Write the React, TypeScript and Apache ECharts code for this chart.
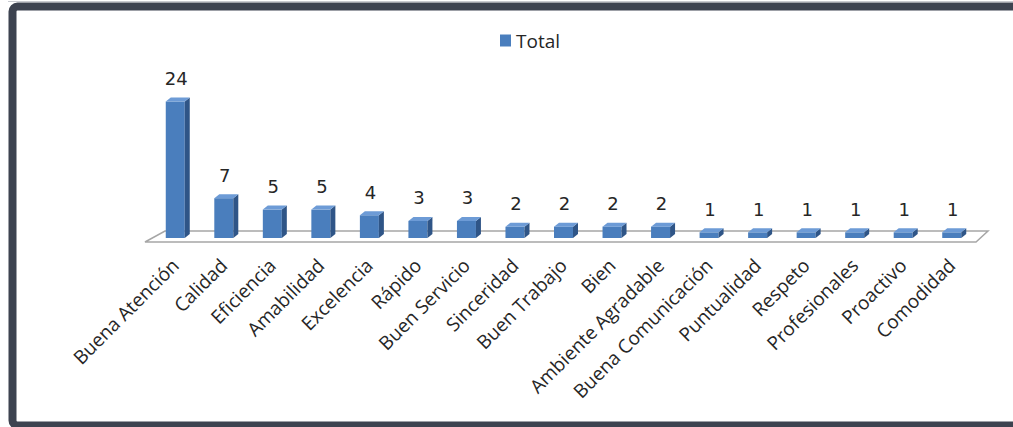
import React, { useEffect, useRef } from "react";
import * as echarts from "echarts";

const categories = [
  "Buena Atención", "Calidad", "Eficiencia", "Amabilidad", "Excelencia", "Rápido",
  "Buen Servicio", "Sinceridad", "Buen Trabajo", "Bien", "Ambiente Agradable",
  "Buena Comunicación", "Puntualidad", "Respeto", "Profesionales", "Proactivo", "Comodidad",
];
const totals = [24, 7, 5, 5, 4, 3, 3, 2, 2, 2, 2, 1, 1, 1, 1, 1, 1];
const seriesName = "Total";

const FRONT = "#4a7ebd";
const SIDE = "#2f5587";
const TOP = "#6d9bd6";

export default function App() {
  const ref = useRef<HTMLDivElement>(null);
  useEffect(() => {
    if (!ref.current) return;
    const chart = echarts.init(ref.current, null, { renderer: "svg" });
    const halfW = 9.5;
    const dx = 5;
    const dy = 4;
    const option: any = {
      animation: false,
      backgroundColor: "#ffffff",
      legend: {
        data: [seriesName],
        left: 495,
        top: 26,
        icon: "rect",
        itemWidth: 11,
        itemHeight: 12,
        itemGap: 6,
        textStyle: { fontFamily: "Open Sans", fontSize: 19, color: "#262626" },
      },
      grid: { left: 151, right: 37, top: 101.5, bottom: 189 },
      xAxis: {
        type: "category",
        data: categories,
        axisLine: { show: false },
        axisTick: { show: false },
        axisLabel: {
          interval: 0,
          rotate: 45,
          margin: 24,
          fontFamily: "Open Sans",
          fontSize: 19,
          color: "#262626",
        },
      },
      yAxis: {
        type: "value",
        min: 0,
        max: Math.max(...totals),
        show: false,
        splitLine: { show: false },
      },
      series: [
        {
          type: "custom",
          name: "floor",
          z: 1,
          silent: true,
          data: [[0, 0]],
          renderItem: (params: any, api: any) => {
            const cs = params.coordSys;
            const baseY = cs.y + cs.height;
            const l = cs.x;
            const r = cs.x + cs.width;
            return {
              type: "polygon",
              shape: {
                points: [
                  [l - 6, baseY + 4],
                  [r, baseY + 4],
                  [r + 12, baseY - 7],
                  [l + 14, baseY - 7],
                ],
              },
              style: { fill: "#ffffff", stroke: "#a6a6a6", lineWidth: 1.5 },
            };
          },
        },
        {
          type: "custom",
          name: seriesName,
          z: 2,
          itemStyle: { color: FRONT },
          data: totals.map((v, i) => [i, v]),
          renderItem: (params: any, api: any) => {
            const idx = api.value(0);
            const val = api.value(1);
            const top = api.coord([idx, val]);
            const base = api.coord([idx, 0]);
            const cx = top[0];
            const ty = top[1];
            const by = base[1];
            const l = cx - halfW;
            const r = cx + halfW;
            return {
              type: "group",
              children: [
                {
                  type: "rect",
                  shape: { x: l, y: ty, width: r - l, height: by - ty },
                  style: { fill: FRONT },
                },
                {
                  type: "polygon",
                  shape: { points: [[r, ty], [r + dx, ty - dy], [r + dx, by - dy], [r, by]] },
                  style: { fill: SIDE },
                },
                {
                  type: "polygon",
                  shape: { points: [[l, ty], [l + dx, ty - dy], [r + dx, ty - dy], [r, ty]] },
                  style: { fill: TOP },
                },
                {
                  type: "text",
                  style: {
                    text: String(val),
                    x: cx + 1,
                    y: ty - dy - 10,
                    align: "center",
                    verticalAlign: "bottom",
                    fontFamily: "DejaVu Sans",
                    fontSize: 18,
                    fill: "#262626",
                  },
                },
              ],
            };
          },
        },
      ],
      graphic: [
        {
          type: "rect",
          z: 100,
          silent: true,
          shape: { x: 12.5, y: 6.5, width: 1030, height: 419, r: 5 },
          style: { fill: "none", stroke: "#3d4350", lineWidth: 8 },
        },
        {
          type: "line",
          z: 99,
          silent: true,
          shape: { x1: 8, y1: 1.5, x2: 1013, y2: 1.5 },
          style: { stroke: "#c8cad0", lineWidth: 1 },
        },
      ],
    };
    chart.setOption(option);
    return () => chart.dispose();
  }, []);
  return (
    <div
      ref={ref}
      style={{ position: "absolute", left: 0, top: 0, width: 1013, height: 427, background: "#fff" }}
    />
  );
}
